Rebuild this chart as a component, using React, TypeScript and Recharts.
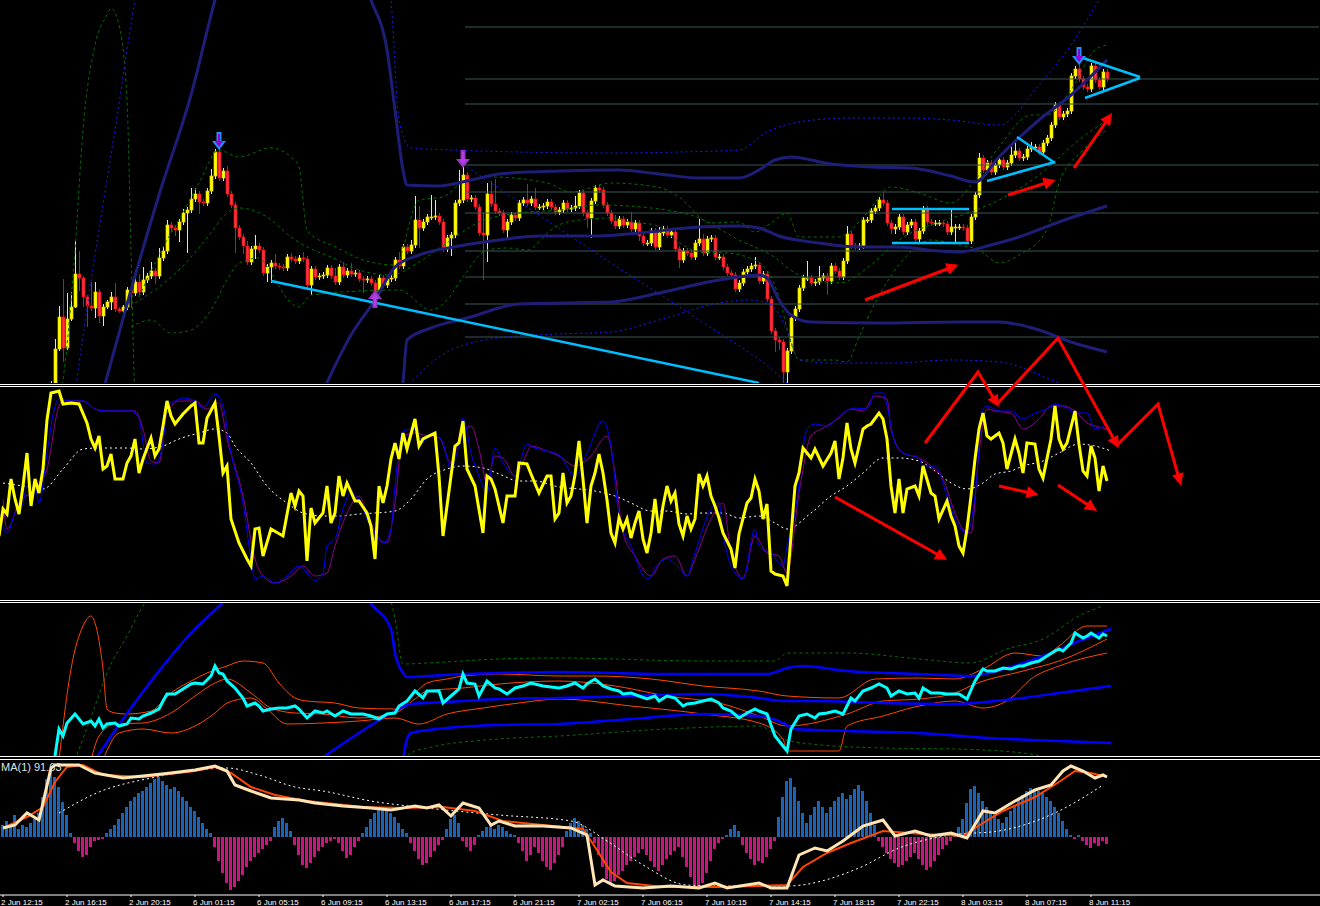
import React from "react";
import { ComposedChart, Line, Bar, Cell, XAxis, YAxis, Scatter, ReferenceLine } from "recharts";

const W = 1320;
const X_DOMAIN: [number, number] = [-0.75, 329.25];

// candles: open = previous close, wicks above/below the body
const FIRST_BAR = 11;
const closes = [
  5, 16, 51, 83, 52, 81, 93, 126, 122, 103,
  94, 92, 108, 84, 93, 98, 103, 91, 89, 93,
  110, 107, 118, 108, 120, 124, 129, 124, 142, 149,
  175, 172, 170, 178, 187, 190, 201, 206, 198, 197,
  209, 224, 248, 222, 229, 206, 195, 172, 163, 154,
  138, 151, 154, 150, 127, 133, 137, 134, 133, 132,
  143, 141, 139, 142, 141, 115, 131, 123, 124, 125,
  132, 124, 118, 133, 125, 129, 126, 127, 121, 120,
  121, 117, 108, 122, 115, 121, 122, 140, 134, 153,
  149, 155, 180, 172, 178, 183, 183, 184, 178, 151,
  162, 165, 197, 200, 225, 201, 202, 193, 167, 165,
  206, 196, 189, 187, 170, 178, 185, 182, 197, 200,
  197, 201, 193, 193, 194, 198, 193, 188, 190, 197,
  191, 192, 194, 207, 187, 182, 199, 212, 210, 195,
  187, 179, 174, 181, 175, 178, 171, 177, 164, 157,
  157, 169, 153, 167, 171, 165, 168, 151, 140, 149,
  147, 143, 157, 161, 147, 161, 162, 143, 143, 133,
  127, 125, 111, 117, 128, 131, 134, 135, 119, 126,
  101, 69, 60, 58, 28, 49, 82, 91, 112, 122,
  122, 117, 118, 122, 124, 119, 134, 129, 123, 139,
  166, 154, 153, 154, 180, 180, 189, 192, 200, 197,
  177, 171, 173, 183, 168, 175, 178, 161, 169, 191,
  178, 177, 177, 177, 176, 168, 173, 173, 173, 172,
  159, 183, 205, 242, 230, 237, 228, 235, 240, 233,
  237, 245, 249, 242, 243, 251, 253, 253, 248, 257,
  262, 275, 295, 283, 286, 289, 324, 331, 321, 313,
  311, 334, 320, 313, 328, 321,
];
const wickUp = [
  2, 3, 10, 11, 38, 26, 15, 33, 23, 2, 2, 24, 10, 3, 3, 2, 5, 14, 2, 2,
  3, 3, 10, 8, 13, 3, 9, 3, 10, 5, 5, 3, 3, 3, 4, 3, 11, 6, 3, 3,
  3, 7, 3, 9, 3, 5, 3, 3, 3, 3, 5, 3, 11, 3, 3, 3, 3, 9, 3, 3,
  3, 4, 3, 3, 6, 3, 3, 3, 3, 3, 3, 3, 8, 3, 5, 3, 8, 3, 3, 3,
  3, 3, 3, 3, 3, 3, 3, 3, 8, 3, 3, 5, 24, 14, 3, 3, 22, 16, 3, 3,
  3, 3, 3, 30, 10, 3, 3, 3, 3, 20, 11, 13, 25, 3, 3, 3, 3, 3, 3, 3,
  16, 3, 11, 3, 3, 3, 3, 3, 3, 3, 3, 3, 10, 3, 3, 3, 3, 3, 3, 3,
  3, 3, 6, 3, 3, 3, 10, 3, 3, 3, 3, 3, 3, 6, 3, 3, 3, 3, 3, 3,
  3, 3, 3, 20, 5, 3, 3, 3, 3, 3, 3, 3, 3, 3, 3, 3, 3, 8, 3, 3,
  3, 3, 3, 3, 3, 3, 3, 3, 3, 3, 17, 3, 3, 12, 3, 3, 3, 3, 3, 3,
  8, 3, 3, 3, 3, 3, 3, 3, 3, 8, 3, 3, 3, 3, 3, 3, 3, 3, 3, 3,
  3, 3, 3, 3, 3, 3, 17, 3, 3, 3, 3, 3, 3, 5, 3, 3, 3, 3, 3, 3,
  3, 12, 12, 3, 3, 3, 5, 3, 3, 3, 3, 3, 3, 3, 3, 3, 3, 3, 12, 3,
  3, 3, 3, 3, 3, 3,
];
const wickDown = [
  2, 3, 0, 2, 14, 2, 2, 1, 13, 10, 21, 3, 10, 7, 10, 2, 8, 3, 2, 2,
  3, 15, 3, 3, 3, 3, 3, 8, 3, 3, 3, 4, 6, 12, 3, 40, 3, 3, 12, 3,
  3, 3, 3, 3, 3, 3, 3, 25, 3, 8, 3, 3, 10, 3, 3, 9, 16, 3, 3, 3,
  3, 3, 3, 3, 3, 3, 10, 3, 3, 3, 3, 3, 3, 3, 3, 3, 3, 3, 3, 13,
  3, 3, 10, 3, 3, 3, 3, 3, 3, 3, 3, 3, 3, 20, 3, 3, 3, 3, 3, 3,
  3, 18, 3, 3, 3, 3, 3, 3, 3, 45, 27, 3, 3, 3, 3, 10, 3, 3, 3, 3,
  3, 3, 3, 3, 3, 3, 3, 3, 3, 3, 3, 3, 3, 3, 3, 10, 20, 3, 3, 3,
  3, 3, 3, 3, 3, 3, 3, 3, 5, 3, 3, 3, 3, 3, 3, 3, 3, 3, 8, 3,
  3, 3, 3, 3, 3, 3, 3, 3, 3, 3, 3, 3, 3, 3, 3, 3, 3, 3, 3, 3,
  3, 3, 12, 8, 11, 11, 3, 3, 3, 3, 3, 3, 3, 3, 3, 14, 3, 3, 3, 3,
  3, 3, 3, 3, 3, 3, 3, 3, 3, 3, 3, 5, 5, 3, 3, 3, 3, 3, 3, 3,
  3, 3, 3, 3, 3, 3, 3, 15, 3, 3, 3, 3, 3, 3, 3, 3, 3, 3, 3, 3,
  3, 3, 3, 3, 3, 3, 3, 3, 3, 3, 3, 3, 3, 3, 3, 3, 3, 3, 3, 3,
  3, 3, 3, 3, 3, 3,
];

// price panel overlays [bar, price]
const bandUpper = [[23,-20],[32,110],[39,205],[47,305],[53,400],[59,480],[84,480],[92,400],[96,350],[98,290],[100,230],[101,215],[109,214],[117,220],[124,226],[139,229],[154,230],[164,226],[174,222],[184,222],[189,230],[193,240],[197,243],[207,236],[217,233],[227,232],[237,224],[243,218],[249,243],[259,280],[267,305],[276,340]];
const bandMid = [[79,0],[87,65],[93,100],[98,133],[104,145],[114,154],[124,160],[134,164],[149,164],[159,167],[174,173],[184,174],[189,172],[194,164],[204,157],[214,153],[224,153],[234,149],[239,148],[247,155],[254,163],[264,178],[276,194]];
const bandLower = [[99,-20],[100,17],[101,60],[107,72],[117,83],[124,92],[129,96],[152,98],[164,107],[179,120],[189,125],[191,122],[194,100],[197,85],[202,78],[219,77],[239,78],[249,78],[259,70],[267,58],[276,48]];
const outerUpper = [[17,-20],[23,145],[28,270],[33,400],[37,480],[93,480],[97,400],[99,280],[102,252],[112,250],[129,248],[149,247],[169,248],[184,250],[191,268],[199,278],[212,282],[224,282],[237,280],[249,275],[259,315],[267,355],[274,400],[277,420]];
const outerDiag = [[116,233],[134,185],[152,137],[174,80],[196,17],[199,5]];
const outerLower = [[99,5],[112,50],[126,63],[139,66],[152,68],[164,80],[179,97],[187,100],[192,95],[196,70],[199,40],[207,37],[222,37],[237,40],[249,38],[262,20],[272,0]];
const envArc = [[13,-20],[15,20],[18,150],[20,270],[23,355],[26,385],[27,392],[29,375],[31,300],[32,150],[33,0],[33.5,-20]];
const envUpper = [[34,103],[41,160],[44,180],[49,217],[54,250],[59,243],[67,252],[72,243],[74,233],[76,170],[79,160],[82,155],[90,140],[98,135],[104,200],[110,203],[115,218],[122,223],[136,217],[142,208],[152,217],[160,215],[166,210],[169,203],[177,177],[184,178],[188,168],[192,177],[196,187],[199,163],[209,163],[216,187],[222,213],[229,207],[237,197],[243,220],[249,253],[257,285],[261,285],[267,310],[273,350],[276,355]];
const envMid = [[33,97],[44,130],[52,167],[55,183],[59,192],[66,183],[72,163],[76,153],[82,143],[89,130],[97,125],[104,138],[112,160],[119,178],[129,187],[139,190],[149,195],[162,192],[174,182],[184,160],[192,145],[199,125],[209,117],[217,135],[224,160],[234,178],[242,188],[249,200],[259,225],[269,260],[276,280]];
const envLower = [[32,73],[37,80],[42,67],[47,70],[52,90],[56,120],[59,137],[64,142],[67,127],[72,97],[74,93],[77,105],[99,110],[107,90],[111,100],[115,123],[121,150],[126,152],[131,150],[137,170],[141,178],[152,182],[157,178],[163,175],[170,155],[174,148],[181,147],[186,143],[191,130],[194,103],[197,57],[199,40],[208,40],[211,38],[214,63],[218,97],[224,135],[232,160],[239,155],[244,150],[249,137],[254,145],[261,170],[264,217],[270,250],[276,270]];
const levels = [373, 321, 296, 235, 208, 187, 149, 123, 96, 63];
const LEVEL_START = 115.5;
const trendLines = [
  [[67,119],[189,17]],
  [[222.25,191],[241.5,191]],
  [[222.25,157],[241.5,157]],
  [[246,219],[263,238]],
  [[253.5,263],[263,237]],
  [[269.25,343],[284.25,323]],
  [[270.5,302],[284.25,322]],
];
const signalBars = [54, 115, 269, 93];
const signalTips = [250, 232, 335, 110];
const signalDirs = [-1, -1, -1, 1];
const signalDual = [true, false, true, false];

// oscillator panel [bar, value]
const oscMain = [[-1,64],[0,91],[1,86],[2,121],[3,101],[4,86],[5,114],[6,147],[7,94],[8,121],[9,107],[10,131],[11,180],[12,207],[14,209],[15,196],[17,197],[19,196],[21,177],[22,161],[23,152],[24,164],[25,131],[26,134],[27,146],[28,121],[30,121],[31,137],[32,144],[33,161],[34,127],[35,141],[37,162],[38,144],[39,151],[40,174],[41,199],[42,184],[43,176],[45,186],[47,194],[48,197],[49,157],[50,157],[51,182],[53,197],[54,164],[55,127],[56,134],[57,81],[59,57],[61,41],[62,34],[63,71],[64,72],[65,44],[67,71],[70,64],[72,107],[73,94],[74,109],[75,104],[76,39],[77,92],[78,77],[80,87],[81,114],[82,77],[83,87],[84,124],[85,104],[86,117],[88,99],[89,99],[91,87],[92,74],[93,41],[94,114],[95,97],[96,114],[97,141],[98,157],[99,141],[100,167],[101,151],[103,181],[104,154],[105,161],[108,167],[109,124],[110,64],[111,94],[113,154],[114,157],[115,179],[116,131],[118,114],[120,67],[121,124],[122,121],[123,111],[125,77],[126,104],[128,104],[129,137],[131,136],[132,126],[134,107],[136,124],[137,124],[138,81],[139,87],[140,127],[141,97],[142,104],[143,125],[144,159],[145,121],[146,77],[147,114],[148,127],[149,146],[150,127],[151,100],[152,67],[153,57],[154,82],[155,71],[156,81],[157,62],[158,77],[159,89],[160,61],[161,47],[162,67],[163,101],[164,67],[165,94],[166,114],[167,99],[168,107],[169,76],[170,64],[171,84],[172,71],[173,81],[174,126],[175,114],[176,124],[177,104],[178,94],[179,82],[180,67],[182,51],[183,32],[184,66],[186,97],[187,102],[188,121],[189,109],[190,81],[191,96],[192,29],[193,26],[195,24],[196,14],[197,64],[198,114],[199,127],[200,152],[201,147],[202,142],[203,151],[205,134],[207,147],[208,159],[209,121],[210,142],[211,177],[212,151],[213,137],[215,171],[216,174],[217,176],[219,187],[220,181],[221,161],[222,114],[223,87],[224,121],[225,87],[226,111],[228,114],[229,104],[230,134],[232,107],[233,104],[234,81],[236,99],[237,84],[238,74],[239,54],[240,47],[241,71],[242,104],[243,141],[244,171],[245,187],[246,164],[247,161],[248,164],[249,167],[250,157],[251,131],[253,161],[254,147],[255,127],[256,157],[258,156],[259,131],[260,122],[262,161],[263,194],[264,161],[265,151],[266,157],[268,189],[269,156],[270,129],[271,124],[272,154],[273,142],[274,109],[275,134],[276,119]];
const oscFast = [[0,74],[1,67],[3,87],[5,97],[6,114],[8,114],[9,97],[11,147],[13,194],[14,201],[17,199],[20,199],[23,191],[26,189],[32,189],[34,181],[36,137],[38,136],[40,157],[41,194],[43,199],[45,202],[48,199],[50,192],[53,206],[55,194],[57,147],[60,97],[62,41],[63,21],[65,24],[68,17],[71,24],[74,34],[76,27],[78,19],[80,27],[81,54],[83,61],[85,91],[87,107],[89,101],[91,81],[93,67],[95,57],[97,71],[98,114],[100,169],[103,171],[105,157],[106,164],[108,166],[110,157],[112,131],[114,157],[115,182],[117,147],[119,124],[121,107],[123,152],[125,137],[128,124],[131,156],[133,152],[136,149],[139,145],[143,124],[146,147],[150,179],[152,154],[154,84],[157,54],[161,21],[164,37],[166,41],[169,32],[171,24],[173,47],[177,91],[179,97],[180,67],[183,27],[185,21],[188,71],[189,54],[192,47],[195,34],[196,54],[198,87],[201,171],[203,176],[206,174],[210,187],[213,192],[216,191],[218,207],[220,207],[221,194],[223,157],[225,147],[229,142],[230,134],[233,134],[236,104],[238,81],[241,67],[243,104],[245,191],[246,194],[249,189],[252,189],[255,181],[258,187],[261,191],[263,196],[266,192],[268,187],[271,187],[273,171],[276,176]];
const oscSlow = [[0,101],[1,71],[4,97],[8,111],[11,131],[14,194],[15,199],[20,199],[23,191],[25,189],[33,189],[35,171],[37,139],[39,137],[41,187],[44,199],[48,199],[51,191],[54,197],[56,161],[60,104],[63,41],[65,24],[68,17],[72,24],[75,34],[78,24],[81,27],[83,54],[86,87],[89,104],[91,87],[94,61],[96,57],[98,97],[100,164],[103,167],[106,164],[109,162],[112,137],[114,161],[117,174],[119,151],[121,117],[123,144],[125,142],[128,124],[131,147],[132,154],[136,149],[139,144],[143,134],[147,144],[151,164],[153,127],[155,67],[158,44],[162,24],[165,41],[168,44],[171,24],[173,41],[177,81],[180,97],[182,47],[185,22],[188,64],[191,47],[194,44],[196,27],[199,107],[202,164],[205,172],[209,182],[212,191],[215,189],[218,204],[221,201],[222,171],[225,147],[229,142],[232,134],[235,121],[238,87],[240,71],[242,67],[244,147],[246,191],[248,189],[252,187],[255,171],[259,181],[262,194],[265,194],[268,189],[271,177],[273,174],[276,171]];
const oscAvg = [[0,117],[5,114],[10,111],[15,131],[20,151],[24,152],[31,152],[35,151],[40,154],[44,161],[49,167],[53,171],[56,167],[58,154],[62,137],[66,114],[71,97],[75,87],[80,84],[84,84],[89,86],[93,87],[98,89],[102,101],[106,121],[111,131],[115,134],[120,132],[124,126],[129,119],[133,119],[139,113],[144,111],[148,109],[153,104],[157,97],[162,89],[166,89],[171,86],[175,87],[180,87],[184,82],[189,84],[193,77],[196,71],[202,87],[207,104],[211,114],[215,127],[220,142],[224,142],[229,139],[233,129],[237,117],[241,111],[245,117],[248,126],[252,129],[255,134],[260,139],[264,147],[269,156],[273,154],[277,149]];

// third panel [bar, value]
const trendMain = [[13,-1],[14,26],[15,19],[16,32],[18,41],[20,31],[22,34],[23,29],[24,36],[25,27],[26,31],[28,32],[29,29],[31,31],[32,37],[34,36],[35,39],[37,42],[39,46],[40,54],[41,61],[43,61],[45,66],[47,71],[48,72],[50,71],[52,79],[53,89],[54,82],[55,81],[56,74],[58,67],[60,57],[61,49],[63,52],[64,49],[65,44],[67,46],[69,47],[71,47],[73,49],[74,46],[76,37],[78,44],[80,42],[81,44],[83,39],[85,44],[87,41],[89,41],[90,41],[92,39],[94,36],[96,41],[98,42],[99,49],[101,54],[103,64],[105,57],[106,64],[109,64],[110,52],[112,59],[114,66],[115,81],[116,72],[118,71],[119,59],[121,74],[123,67],[124,66],[126,61],[128,67],[130,69],[132,72],[135,69],[139,67],[141,69],[143,72],[145,67],[146,71],[148,76],[150,69],[152,66],[154,64],[155,61],[157,62],[159,59],[161,56],[163,59],[164,54],[166,59],[168,57],[170,49],[171,51],[173,52],[175,54],[177,56],[179,52],[180,47],[182,44],[184,37],[186,42],[188,46],[189,44],[191,41],[193,19],[195,9],[196,4],[197,26],[199,39],[201,41],[203,37],[204,41],[206,42],[208,44],[210,41],[212,57],[213,54],[215,64],[217,67],[219,71],[221,67],[222,59],[224,64],[226,61],[228,62],[229,57],[230,67],[232,62],[234,62],[236,61],[238,61],[239,61],[241,56],[243,74],[245,86],[246,84],[248,84],[250,87],[252,86],[254,89],[255,89],[257,92],[259,94],[261,99],[263,104],[264,106],[265,104],[267,112],[268,122],[270,117],[271,119],[272,122],[274,117],[275,121],[276,119]];
const chanRise = [[23,-5],[30,36],[40,89],[47,122],[53,145],[57,160]];
const chanTop = [[88,170],[92,151],[97,126],[98,102],[100,82],[101,78],[106,79],[115,81],[124,82],[139,83],[153,82],[166,81],[191,81],[196,87],[200,89],[211,84],[229,81],[242,79],[251,87],[260,99],[269,114],[277,126]];
const chanMid = [[79,-5],[89,22],[98,44],[102,51],[106,52],[115,54],[124,56],[139,57],[157,59],[175,61],[189,57],[195,54],[202,54],[220,52],[238,51],[243,52],[255,57],[264,62],[277,69]];
const chanLow = [[100,-5],[101,16],[102,22],[111,27],[124,30],[139,31],[157,36],[175,41],[189,39],[195,32],[198,26],[211,24],[229,22],[246,17],[264,14],[277,12]];
const envHi = [[14,-5],[17,86],[20,129],[22,139],[23,132],[25,86],[26,46],[28,42],[31,41],[37,44],[42,62],[48,76],[51,82],[56,89],[60,94],[65,92],[69,72],[73,57],[76,54],[83,52],[89,47],[98,46],[103,62],[106,72],[111,76],[115,79],[124,81],[139,79],[148,79],[162,76],[175,69],[189,64],[196,59],[209,57],[218,76],[229,77],[238,76],[245,86],[253,102],[260,99],[264,109],[271,129],[276,129]];
const envMd = [[22,-5],[24,19],[28,31],[35,32],[42,42],[48,59],[53,72],[56,76],[62,62],[67,47],[73,42],[80,41],[89,37],[98,42],[103,56],[106,64],[115,67],[124,71],[139,74],[153,69],[166,59],[180,51],[189,39],[196,29],[211,41],[220,54],[229,56],[238,62],[243,71],[255,84],[264,94],[276,116]];
const envLo = [[25,-5],[29,22],[35,26],[42,22],[48,29],[53,42],[56,52],[62,57],[66,46],[71,31],[80,32],[89,34],[98,37],[104,31],[111,41],[120,47],[129,52],[139,56],[157,49],[175,41],[189,32],[195,16],[196,4],[209,4],[211,29],[220,39],[229,49],[238,54],[245,47],[252,57],[257,76],[264,89],[276,102]];
const outerRise = [[18,-5],[23,49],[26,82],[31,119],[35,149],[38,165]];
const outerTop = [[96,170],[98,136],[100,91],[106,92],[124,96],[139,97],[175,94],[193,94],[196,102],[211,102],[229,96],[242,92],[251,106],[260,116],[269,139],[275,149]];
const outerBottom = [[100,-5],[102,2],[106,7],[124,16],[139,19],[166,26],[189,29],[195,16],[202,11],[220,7],[238,6],[255,2],[262,-3]];

// bottom panel
const histogram = [
  12, 16, 10, 22, 8, 12, 10, 14, 18, 24,
  40, 58, 66, 60, 50, 35, 22,
  4, -6, -14, -20, -18, -10, -4, -3, -2,
  4, 8, 12, 18, 24, 30, 36, 40, 44, 46, 50, 54, 58, 60, 56, 52, 48, 50, 46, 40, 36, 30, 26, 20, 14, 8, 4,
  -10, -24, -36, -46, -53, -50, -44, -38, -30, -24, -20, -16, -12, -8, -4,
  10, 16, 19, 14, 6,
  -8, -18, -28, -31, -26, -20, -14, -10, -6, -4, -2,
  -6, -14, -21, -18, -10, -4,
  4, 10, 18, 24, 28, 29, 27, 24, 20, 14, 8, 4,
  -6, -14, -22, -28, -26, -20, -14, -8, -3,
  8, 18, 22, 14,
  -4, -10, -14, -8,
  2, 6, 10, 12, 8, 12, 10, 6, 3, 2,
  -6, -14, -24, -18, -10, -16, -24, -30, -33, -26, -18, -10,
  6, 14, 19, 16, 12, 8, 4,
  -6, -18, -30, -42, -48, -44, -38, -34, -28, -24, -20, -16, -12, -18, -24, -30, -34, -28, -22, -18, -14, -10, -20, -30, -40, -48, -51, -46, -36, -24, -12,
  -6, -2, 2,
  8, 12, 6,
  -8, -16, -22, -28, -24, -26, -20, -12, -4,
  20, 40, 56, 59, 50, 36, 24,
  14, 22, 30, 36, 30, 24,
  30, 36, 40, 44, 38, 42, 48, 52, 46, 36, 24, 12,
  -4, -10, -16, -22, -26, -30, -28, -24, -20, -16, -22, -28, -33, -30, -24, -18, -12, -8, -4,
  4, 10, 18,
  34, 48, 51, 44, 36, 30, 26, 22, 18,
  14, 20, 26, 32, 38, 42, 46, 49, 48, 46, 44, 40, 36, 30, 24, 16, 8,
  2, -2, 2,
  -4, -8, -11, -6, -9, -4, -7,
];
const maFast = [[0,9],[3,12],[6,24],[9,17],[12,69],[13,72],[19,72],[23,64],[30,59],[35,61],[42,64],[48,67],[53,71],[56,66],[58,52],[62,46],[67,39],[74,37],[78,34],[85,31],[92,29],[97,27],[103,31],[106,29],[109,32],[112,21],[115,34],[119,29],[122,12],[124,16],[128,11],[135,11],[142,9],[146,2],[148,-48],[150,-43],[153,-49],[160,-51],[167,-49],[174,-51],[178,-46],[181,-51],[189,-46],[192,-51],[196,-51],[199,-18],[203,-11],[206,-14],[210,-4],[215,11],[220,17],[223,1],[228,6],[232,1],[237,4],[241,-1],[245,26],[248,24],[253,36],[258,47],[262,52],[265,66],[267,71],[270,66],[273,59],[275,62],[276,60]];
const maMid = [[0,9],[6,20],[10,30],[13,55],[16,70],[20,72],[25,62],[35,60],[48,66],[53,70],[57,64],[62,50],[68,42],[76,36],[90,30],[100,29],[110,30],[118,26],[125,16],[135,12],[145,8],[148,-10],[152,-35],[156,-46],[165,-50],[180,-50],[196,-48],[200,-30],[206,-16],[212,-6],[220,6],[230,3],[240,1],[245,14],[250,26],[258,40],[264,55],[268,66],[272,64],[276,60]];
const maSlow = [[14,24],[24,45],[37,59],[49,67],[56,69],[64,62],[73,50],[80,46],[92,36],[106,29],[124,22],[142,16],[151,-4],[160,-28],[171,-48],[181,-49],[196,-49],[214,-31],[224,-11],[237,2],[249,6],[264,26],[275,52]];

const tickBars = [0, 16, 32, 48, 64, 80, 96, 112, 128, 144, 160, 176, 192, 208, 224, 240, 256, 272];
const tickLabels = [
  "2 Jun 12:15", "2 Jun 16:15", "2 Jun 20:15", "6 Jun 01:15", "6 Jun 05:15", "6 Jun 09:15",
  "6 Jun 13:15", "6 Jun 17:15", "6 Jun 21:15", "7 Jun 02:15", "7 Jun 06:15", "7 Jun 10:15",
  "7 Jun 14:15", "7 Jun 18:15", "7 Jun 22:15", "8 Jun 03:15", "8 Jun 07:15", "8 Jun 11:15",
];

// hand drawn red arrows, in price units extended below the price panel
const redArrows = [
  [[215.5,100],[238,134]],
  [[251.25,205],[262.25,219]],
  [[267.75,232],[276.75,284]],
  [[230.5,-43],[243.75,28],[248.5,-4]],
  [[248.5,-4],[263.75,62],[278.5,-45]],
  [[278.5,-45],[288.75,-4],[294.25,-82]],
  [[208,-97],[235.25,-158]],
  [[249,-86],[258,-94]],
  [[263.75,-85],[272.75,-109]],
];

const pts = (a: number[][]) => a.map(([i, v]) => ({ i, v }));

const candles = closes.map((c, k) => {
  const o = k === 0 ? c : closes[k - 1];
  return { i: FIRST_BAR + k, o, c, h: Math.max(o, c) + wickUp[k], l: Math.min(o, c) - wickDown[k] };
});
const histData = histogram.map((v, i) => ({ i, v }));
const signals = signalBars.map((i, k) => ({ i, v: signalTips[k], dir: signalDirs[k], dual: signalDual[k] }));

const Candle = (props: any) => {
  const { x, y, width, height, payload } = props;
  if (!payload || height == null) return null;
  const { o, c, h, l } = payload;
  const up = c >= o;
  const k = height / (h - l || 1);
  const top = y + (h - Math.max(o, c)) * k;
  const bot = y + (h - Math.min(o, c)) * k;
  const cx = Math.round(x + width / 2) + 0.5;
  const col = up ? "#ffff00" : "#ff0000";
  return (
    <g>
      <line x1={cx} x2={cx} y1={y} y2={y + height} stroke={col} strokeWidth={1} />
      <rect x={cx - 1.5} y={top} width={3} height={Math.max(1, bot - top)} fill={up ? "#ffff00" : "#e83a4c"} stroke={up ? "#e6d200" : "#ff0000"} strokeWidth={0.7} />
    </g>
  );
};

// dir -1: arrow above the bar pointing down, dir 1: below pointing up
const Signal = (props: any) => {
  const { cx, cy, payload } = props;
  if (cx == null) return null;
  const d = payload.dir;
  const p = (dx: number, dy: number) => `${cx + dx},${cy + d * dy}`;
  const outer = [p(0, 0), p(-7, 9), p(-2.5, 9), p(-2.5, 18), p(2.5, 18), p(2.5, 9), p(7, 9)].join(" ");
  const inner = [p(0, 3), p(-4, 9), p(-1, 9), p(-1, 16), p(1, 16), p(1, 9), p(4, 9)].join(" ");
  return (
    <g>
      <polygon points={outer} fill={payload.dual ? "#1e90ff" : "#9932cc"} />
      <polygon points={inner} fill={payload.dual ? "#9400d3" : "#b040e0"} />
    </g>
  );
};

const TimeTick = (props: any) => {
  const { x, y, payload } = props;
  const label = tickLabels[tickBars.indexOf(payload.value)];
  return (
    <text x={x - 2} y={y + 6} fill="#ffffff" fontSize={8} fontFamily="Liberation Sans, Arial, sans-serif" textAnchor="start">
      {label}
    </text>
  );
};

const line = (key: string, data: number[][], stroke: string, width: number, dash?: string, smooth = false) => (
  <Line
    key={key}
    data={pts(data)}
    dataKey="v"
    type={smooth ? "monotone" : "linear"}
    stroke={stroke}
    strokeWidth={width}
    strokeDasharray={dash}
    dot={false}
    activeDot={false}
    isAnimationActive={false}
  />
);

const xAxis = <XAxis type="number" dataKey="i" domain={X_DOMAIN} allowDataOverflow hide />;
const margin = { top: 0, right: 0, bottom: 0, left: 0 };
const sep = (top: number) => (
  <div key={top} style={{ position: "absolute", left: 0, top, width: W, height: 1, background: "#ffffff" }} />
);

export default function App() {
  return (
    <div style={{ position: "absolute", left: 0, top: 0, width: W, height: 906, background: "#000", overflow: "hidden", fontFamily: "Liberation Sans, Arial, sans-serif" }}>
      <div style={{ position: "absolute", left: 0, top: 0 }}>
        <ComposedChart width={W} height={383} data={candles} margin={margin}>
          {xAxis}
          <YAxis type="number" domain={[17, 400]} allowDataOverflow hide />
          {levels.map((lv) => (
            <ReferenceLine key={lv} segment={[{ x: LEVEL_START, y: lv }, { x: 329, y: lv }]} stroke="#3d5656" strokeWidth={1} />
          ))}
          {line("arc", envArc, "#007000", 1, "3 3", true)}
          {line("envU", envUpper, "#007000", 1, "3 3", true)}
          {line("envM", envMid, "#007000", 1, "3 3", true)}
          {line("envL", envLower, "#007000", 1, "3 3", true)}
          {line("outU", outerUpper, "#1a1aff", 1, "2 3", true)}
          {line("outD", outerDiag, "#1a1aff", 1, "2 3", true)}
          {line("outL", outerLower, "#1a1aff", 1, "2 3", true)}
          {line("bandU", bandUpper, "#1e1e78", 3, undefined, true)}
          {line("bandM", bandMid, "#1e1e78", 3, undefined, true)}
          {line("bandL", bandLower, "#1e1e78", 3, undefined, true)}
          <Bar dataKey={(d: any) => [d.l, d.h]} barSize={3} shape={<Candle />} isAnimationActive={false} />
          {trendLines.map((t, k) => line("tl" + k, t, "#00bfff", 2.5))}
          <Scatter data={signals} dataKey="v" shape={<Signal />} isAnimationActive={false} />
        </ComposedChart>
      </div>
      {sep(384)}
      {sep(386)}
      <div style={{ position: "absolute", left: 0, top: 387 }}>
        <ComposedChart width={W} height={213} margin={margin}>
          {xAxis}
          <YAxis type="number" domain={[0, 213]} allowDataOverflow hide />
          {line("avg", oscAvg, "#ffffff", 1, "2 3", true)}
          {line("slow", oscSlow, "#8b008b", 1, undefined, true)}
          {line("fast", oscFast, "#0000ff", 1, undefined, true)}
          {line("osc", oscMain, "#ffff00", 3)}
        </ComposedChart>
      </div>
      {sep(600)}
      {sep(602)}
      <div style={{ position: "absolute", left: 0, top: 603 }}>
        <ComposedChart width={W} height={153} margin={margin}>
          {xAxis}
          <YAxis type="number" domain={[-1, 152]} allowDataOverflow hide />
          {line("oR", outerRise, "#007000", 1, "3 3", true)}
          {line("oT", outerTop, "#007000", 1, "3 3", true)}
          {line("oB", outerBottom, "#007000", 1, "3 3", true)}
          {line("eH", envHi, "#ff4500", 1, undefined, true)}
          {line("eM", envMd, "#ff4500", 1, undefined, true)}
          {line("eL", envLo, "#ff4500", 1, undefined, true)}
          {line("cR", chanRise, "#0000ff", 2.5, undefined, true)}
          {line("cT", chanTop, "#0000ff", 2.5, undefined, true)}
          {line("cM", chanMid, "#0000ff", 2.5, undefined, true)}
          {line("cL", chanLow, "#0000ff", 2.5, undefined, true)}
          {line("tm", trendMain, "#00ffff", 3)}
        </ComposedChart>
      </div>
      {sep(756)}
      {sep(759)}
      <div style={{ position: "absolute", left: 0, top: 760 }}>
        <ComposedChart width={W} height={146} data={histData} margin={margin}>
          <XAxis
            type="number"
            dataKey="i"
            domain={X_DOMAIN}
            allowDataOverflow
            ticks={tickBars}
            height={11}
            tickSize={2}
            axisLine={{ stroke: "#ffffff" }}
            tickLine={{ stroke: "#ffffff" }}
            tick={<TimeTick />}
            interval={0}
          />
          <YAxis type="number" domain={[-58, 77]} allowDataOverflow hide />
          <Bar dataKey="v" barSize={3} isAnimationActive={false}>
            {histData.map((d) => (
              <Cell key={d.i} fill={d.v >= 0 ? "#1b63b8" : "#c8157f"} />
            ))}
          </Bar>
          {line("maS", maSlow, "#ffffff", 1, "2 3", true)}
          {line("maM", maMid, "#ff4500", 2)}
          {line("maF", maFast, "#ffe4b5", 3)}
        </ComposedChart>
      </div>
      <div style={{ position: "absolute", left: 1, top: 761, color: "#e0e0e0", fontSize: 11, lineHeight: "12px" }}>MA(1) 91.63</div>
      <div style={{ position: "absolute", left: 0, top: 0, pointerEvents: "none" }}>
        <ComposedChart width={W} height={906} margin={margin}>
          <defs>
            <marker id="redHead" viewBox="0 0 10 10" refX="7" refY="5" markerWidth="5" markerHeight="4" orient="auto">
              <path d="M0,0 L10,5 L0,10 z" fill="#ff0000" />
            </marker>
          </defs>
          {xAxis}
          <YAxis type="number" domain={[-506, 400]} allowDataOverflow hide />
          {redArrows.map((a, k) => (
            <Line
              key={"ra" + k}
              data={pts(a)}
              dataKey="v"
              type="linear"
              stroke="#ff0000"
              strokeWidth={3}
              dot={false}
              activeDot={false}
              markerEnd="url(#redHead)"
              isAnimationActive={false}
            />
          ))}
        </ComposedChart>
      </div>
    </div>
  );
}
